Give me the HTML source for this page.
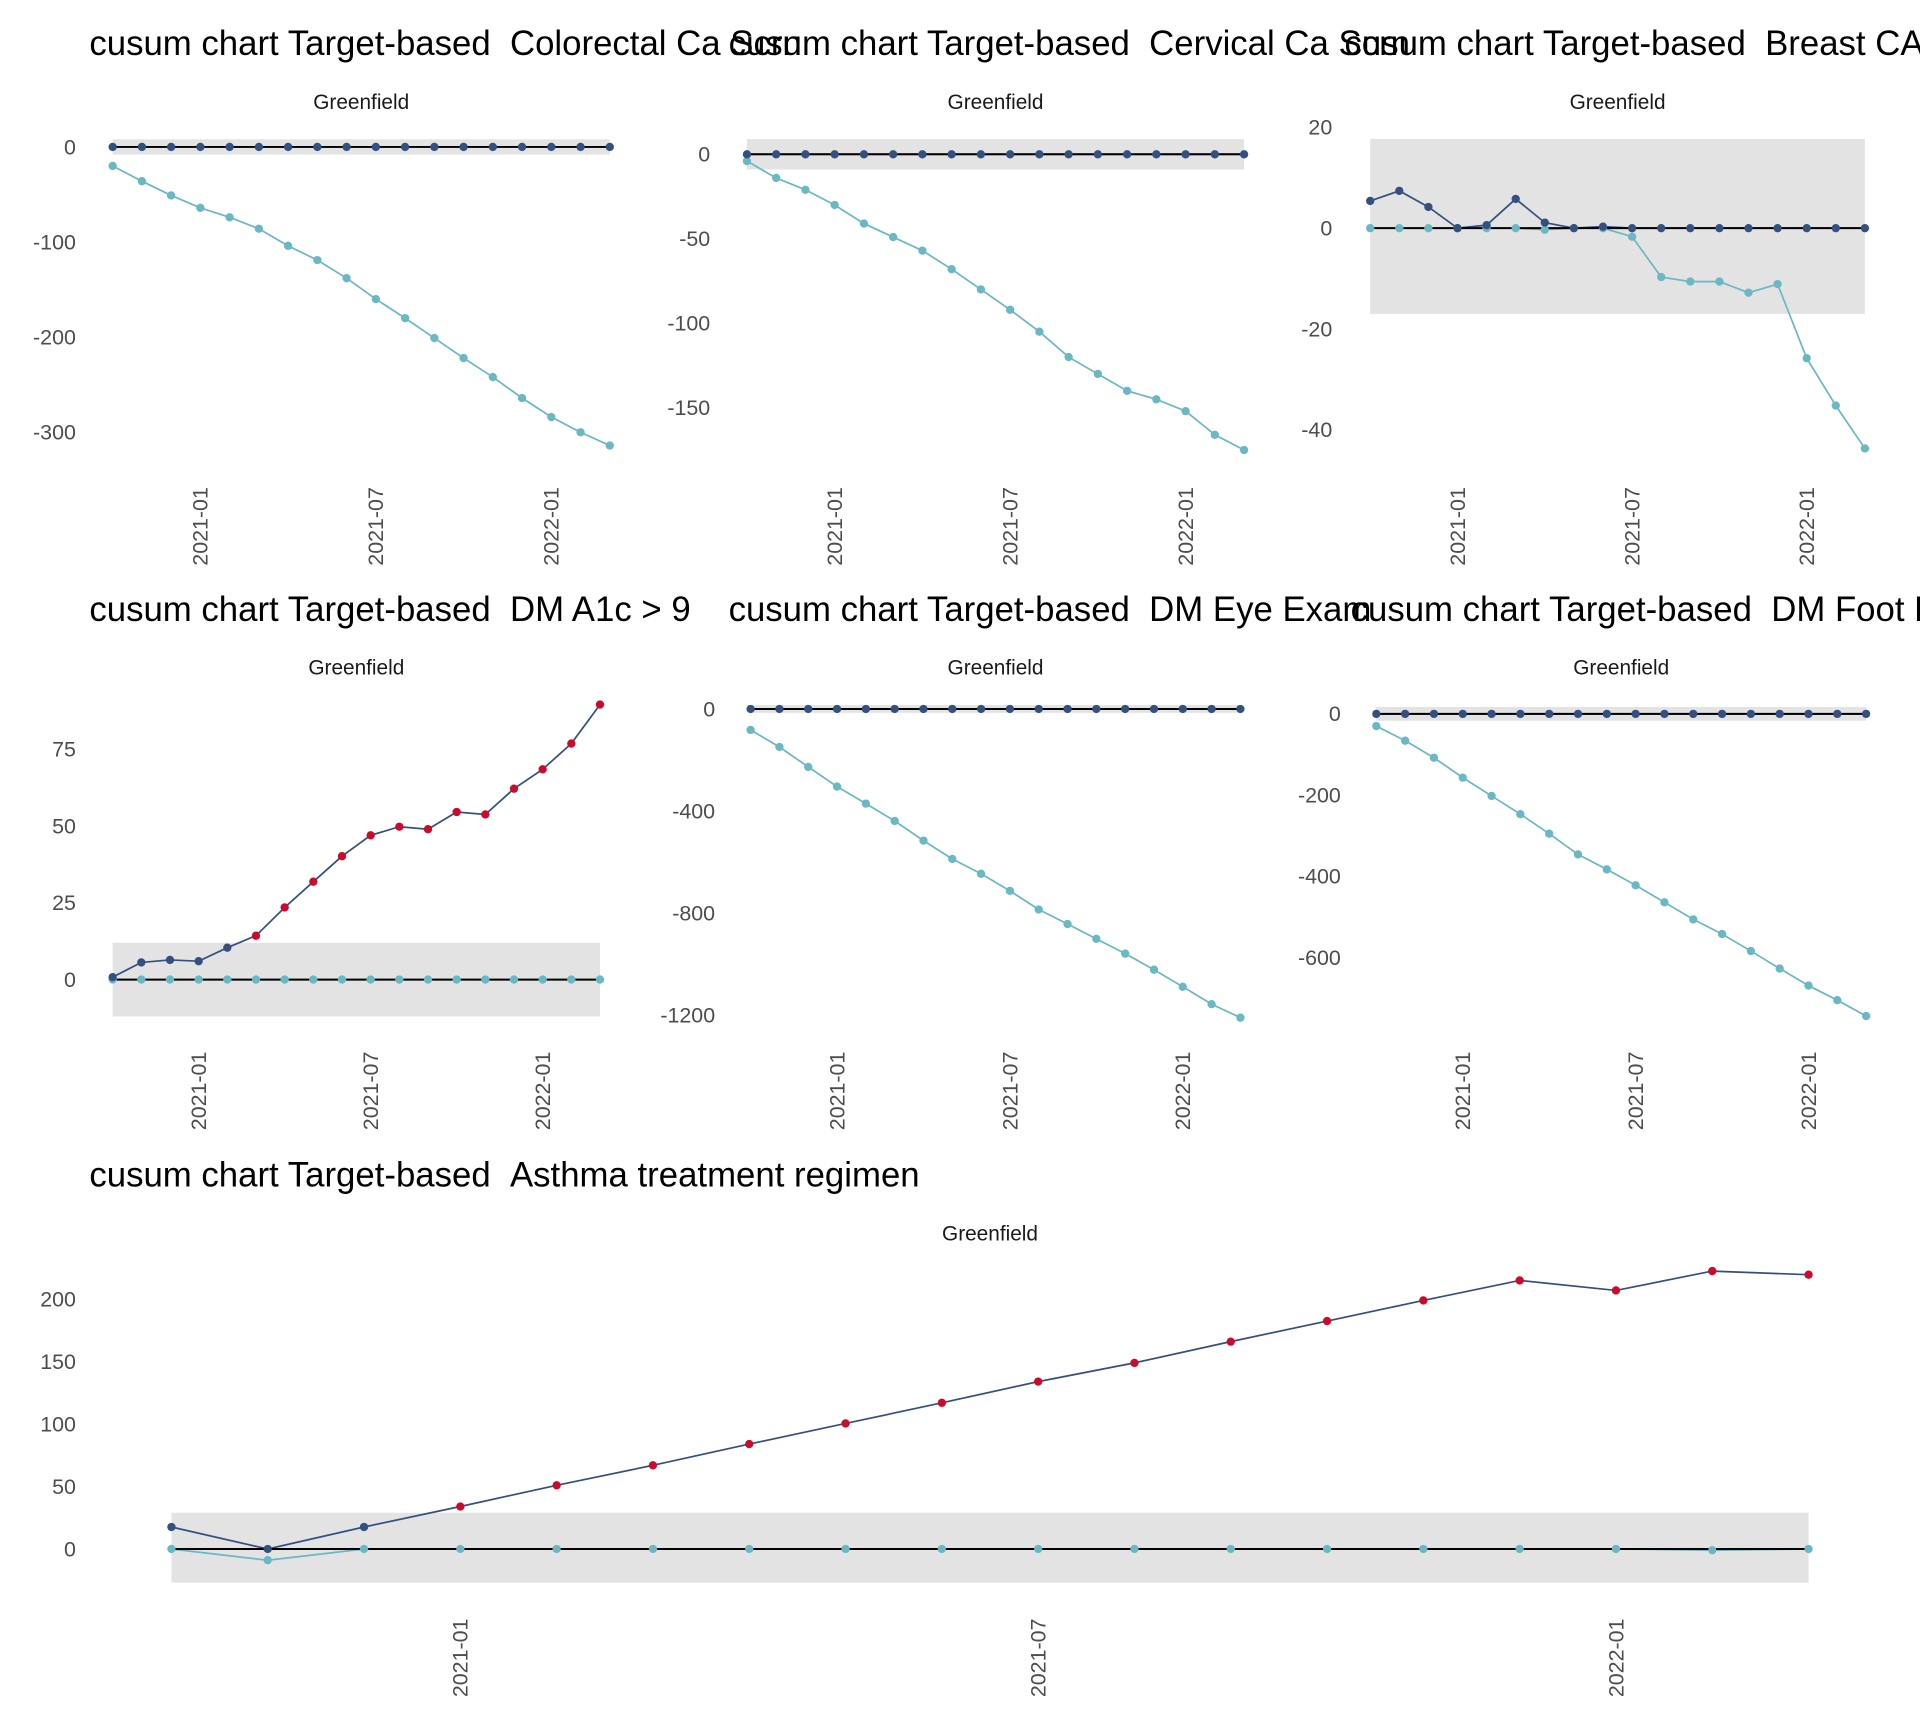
<!DOCTYPE html>
<html><head><meta charset="utf-8">
<style>
html,body{margin:0;padding:0;background:#fff;}
svg{display:block;font-family:"Liberation Sans",Arial,sans-serif;}
</style></head>
<body>
<svg id="chart" width="1920" height="1728" viewBox="0 0 1568 1411.2" xmlns="http://www.w3.org/2000/svg"></svg>
<script>
// ---- data ----
const months = ["2020-10","2020-11","2020-12","2021-01","2021-02","2021-03","2021-04","2021-05","2021-06","2021-07","2021-08","2021-09","2021-10","2021-11","2021-12","2022-01","2022-02","2022-03"];
const xTickLabels = ["2021-01","2021-07","2022-01"];
const titles = ["Colorectal Ca Scrn","Cervical Ca Scrn","Breast CA Scrn","DM A1c > 9","DM Eye Exam","DM Foot Exam","Asthma treatment regimen"];
const upperP1 = [0,0,0,0,0,0,0,0,0,0,0,0,0,0,0,0,0,0];
const lowerP1 = [-20,-36,-51,-64,-74,-86,-104,-119,-138,-160,-180,-201,-222,-242,-264,-284,-300,-314];
const upperP2 = [0,0,0,0,0,0,0,0,0,0,0,0,0,0,0,0,0,0];
const lowerP2 = [-4,-14,-21,-30,-41,-49,-57,-68,-80,-92,-105,-120,-130,-140,-145,-152,-166,-175];
const upperP3 = [5.4,7.4,4.2,0,0.6,5.8,1.1,0,0.3,0,0,0,0,0,0,0,0,0];
const lowerP3 = [0,0,0,0,0,0,-0.3,0,0,-1.7,-9.7,-10.6,-10.6,-12.8,-11.1,-25.8,-35.2,-43.7];
const upperP4 = [0.8,5.6,6.4,6,10.4,14.3,23.5,31.9,40.2,47,49.8,49,54.6,53.8,62.2,68.5,76.9,89.6];
const lowerP4 = [0,0,0,0,0,0,0,0,0,0,0,0,0,0,0,0,0,0];
const upperP5 = [0,0,0,0,0,0,0,0,0,0,0,0,0,0,0,0,0,0];
const lowerP5 = [-82,-149,-227,-304,-371,-439,-516,-588,-646,-713,-786,-843,-901,-959,-1022,-1089,-1157,-1210];
const upperP6 = [0,0,0,0,0,0,0,0,0,0,0,0,0,0,0,0,0,0];
const lowerP6 = [-30,-66,-108,-157,-202,-247,-295,-346,-383,-422,-464,-506,-542,-584,-627,-669,-705,-744];
const upperP7 = [17.6,0,17.6,34,51,67,84,100.5,117,134,149,166,182.5,199,215,207,222.5,219.6];
const lowerP7 = [0,-9,0,0,0,0,0,0,0,0,0,0,0,0,0,0,-1,0];
const limitsHi = [8,9,17.7,12,15,17,29];
const limitsLo = [-8,-9,-17,-12,-15,-17,-27];
const yTicksP1 = [0,-100,-200,-300];
const yTicksP2 = [0,-50,-100,-150];
const yTicksP3 = [20,0,-20,-40];
const yTicksP4 = [0,25,50,75];
const yTicksP5 = [0,-400,-800,-1200];
const yTicksP6 = [0,-200,-400,-600];
const yTicksP7 = [0,50,100,150,200];

// ---- layout (display units) ----
const panels = [
 {up:upperP1,lo:lowerP1,ticks:yTicksP1,x0:92,x1:498,v0:0,p0:120,v1:-300,p1:353,labX:62,tx:73,ty:45,gy:83,xlabY:462},
 {up:upperP2,lo:lowerP2,ticks:yTicksP2,x0:610,x1:1016,v0:0,p0:126,v1:-150,p1:333,labX:580,tx:595,ty:45,gy:83,xlabY:462},
 {up:upperP3,lo:lowerP3,ticks:yTicksP3,x0:1119,x1:1523,v0:20,p0:104,v1:-40,p1:351,labX:1088,tx:1098,ty:45,gy:83,xlabY:462},
 {up:upperP4,lo:lowerP4,ticks:yTicksP4,x0:92,x1:490,v0:0,p0:800,v1:75,p1:612,labX:62,tx:73,ty:507,gy:545,xlabY:923},
 {up:upperP5,lo:lowerP5,ticks:yTicksP5,x0:613,x1:1013,v0:0,p0:579,v1:-1200,p1:829,labX:584,tx:595,ty:507,gy:545,xlabY:923},
 {up:upperP6,lo:lowerP6,ticks:yTicksP6,x0:1124,x1:1524,v0:0,p0:583,v1:-600,p1:782,labX:1095,tx:1103,ty:507,gy:545,xlabY:923},
 {up:upperP7,lo:lowerP7,ticks:yTicksP7,x0:140,x1:1477,v0:0,p0:1265,v1:200,p1:1061,labX:62,tx:73,ty:969,gy:1007,xlabY:1386}
];
const NS="http://www.w3.org/2000/svg";
const svg=document.getElementById('chart');
function mk(tag,attrs,parent){const e=document.createElementNS(NS,tag);for(const k in attrs)e.setAttribute(k,attrs[k]);(parent||svg).appendChild(e);return e;}
const NAVY="#34507f",TEAL="#6ab8c4",RED="#cc0a2c";
panels.forEach((p,i)=>{
  const g=mk('g',{});
  
  
  const n=months.length;
  const xs=k=>p.x0+(p.x1-p.x0)*k/(n-1);
  const ys=v=>p.p0+(v-p.v0)*(p.p1-p.p0)/(p.v1-p.v0);
  const band=mk('rect',{x:p.x0,y:ys(limitsHi[i]),width:p.x1-p.x0,height:ys(limitsLo[i])-ys(limitsHi[i]),fill:'#e3e3e3'},g);
  
  
  p.ticks.forEach(t=>{
    const tl=mk('text',{x:p.labX,y:ys(t)+6,'text-anchor':'end','font-size':17.5,fill:'#4d4d4d'},g);
    tl.textContent=t;
    
    
  });
  xTickLabels.forEach(lab=>{
    const k=months.indexOf(lab);
    const x=xs(k)+6;
    const tl=mk('text',{x:0,y:0,transform:`translate(${x},${p.xlabY}) rotate(-90)`,'font-size':17.5,fill:'#4d4d4d'},g);
    tl.textContent=lab;
    
    
  });
  const series=[[p.lo,TEAL,'lower-cusum'],[p.up,NAVY,'upper-cusum']];
  series.forEach(([arr,col,nm])=>{
    const ln=mk('polyline',{points:arr.map((v,k)=>xs(k)+','+ys(v)).join(' '),fill:'none',stroke:col,'stroke-width':1.4},g);
    
    
  });
  const zl=mk('line',{x1:p.x0,x2:p.x1,y1:ys(0),y2:ys(0),stroke:'#000','stroke-width':1.6},g);
  
  
  series.forEach(([arr,col,nm])=>{
    arr.forEach((v,k)=>{
      const out=v>limitsHi[i]||v<limitsLo[i];
      const c=(nm==='upper-cusum'&&out)?RED:col;
      const pt=mk('circle',{cx:xs(k),cy:ys(v),r:3.4,fill:c},g);
      
      
    });
  });
  const gf=mk('text',{x:(p.x0+p.x1)/2,y:p.gy+6,'text-anchor':'middle','font-size':17,fill:'#1a1a1a'},g);
  gf.textContent='Greenfield';
  
  
  const tt=mk('text',{x:p.tx,y:p.ty,'font-size':28.4,fill:'#000'},g);
  tt.textContent='cusum chart Target-based\u00a0\u00a0'+titles[i];
  
  
});
</script>
</body></html>
